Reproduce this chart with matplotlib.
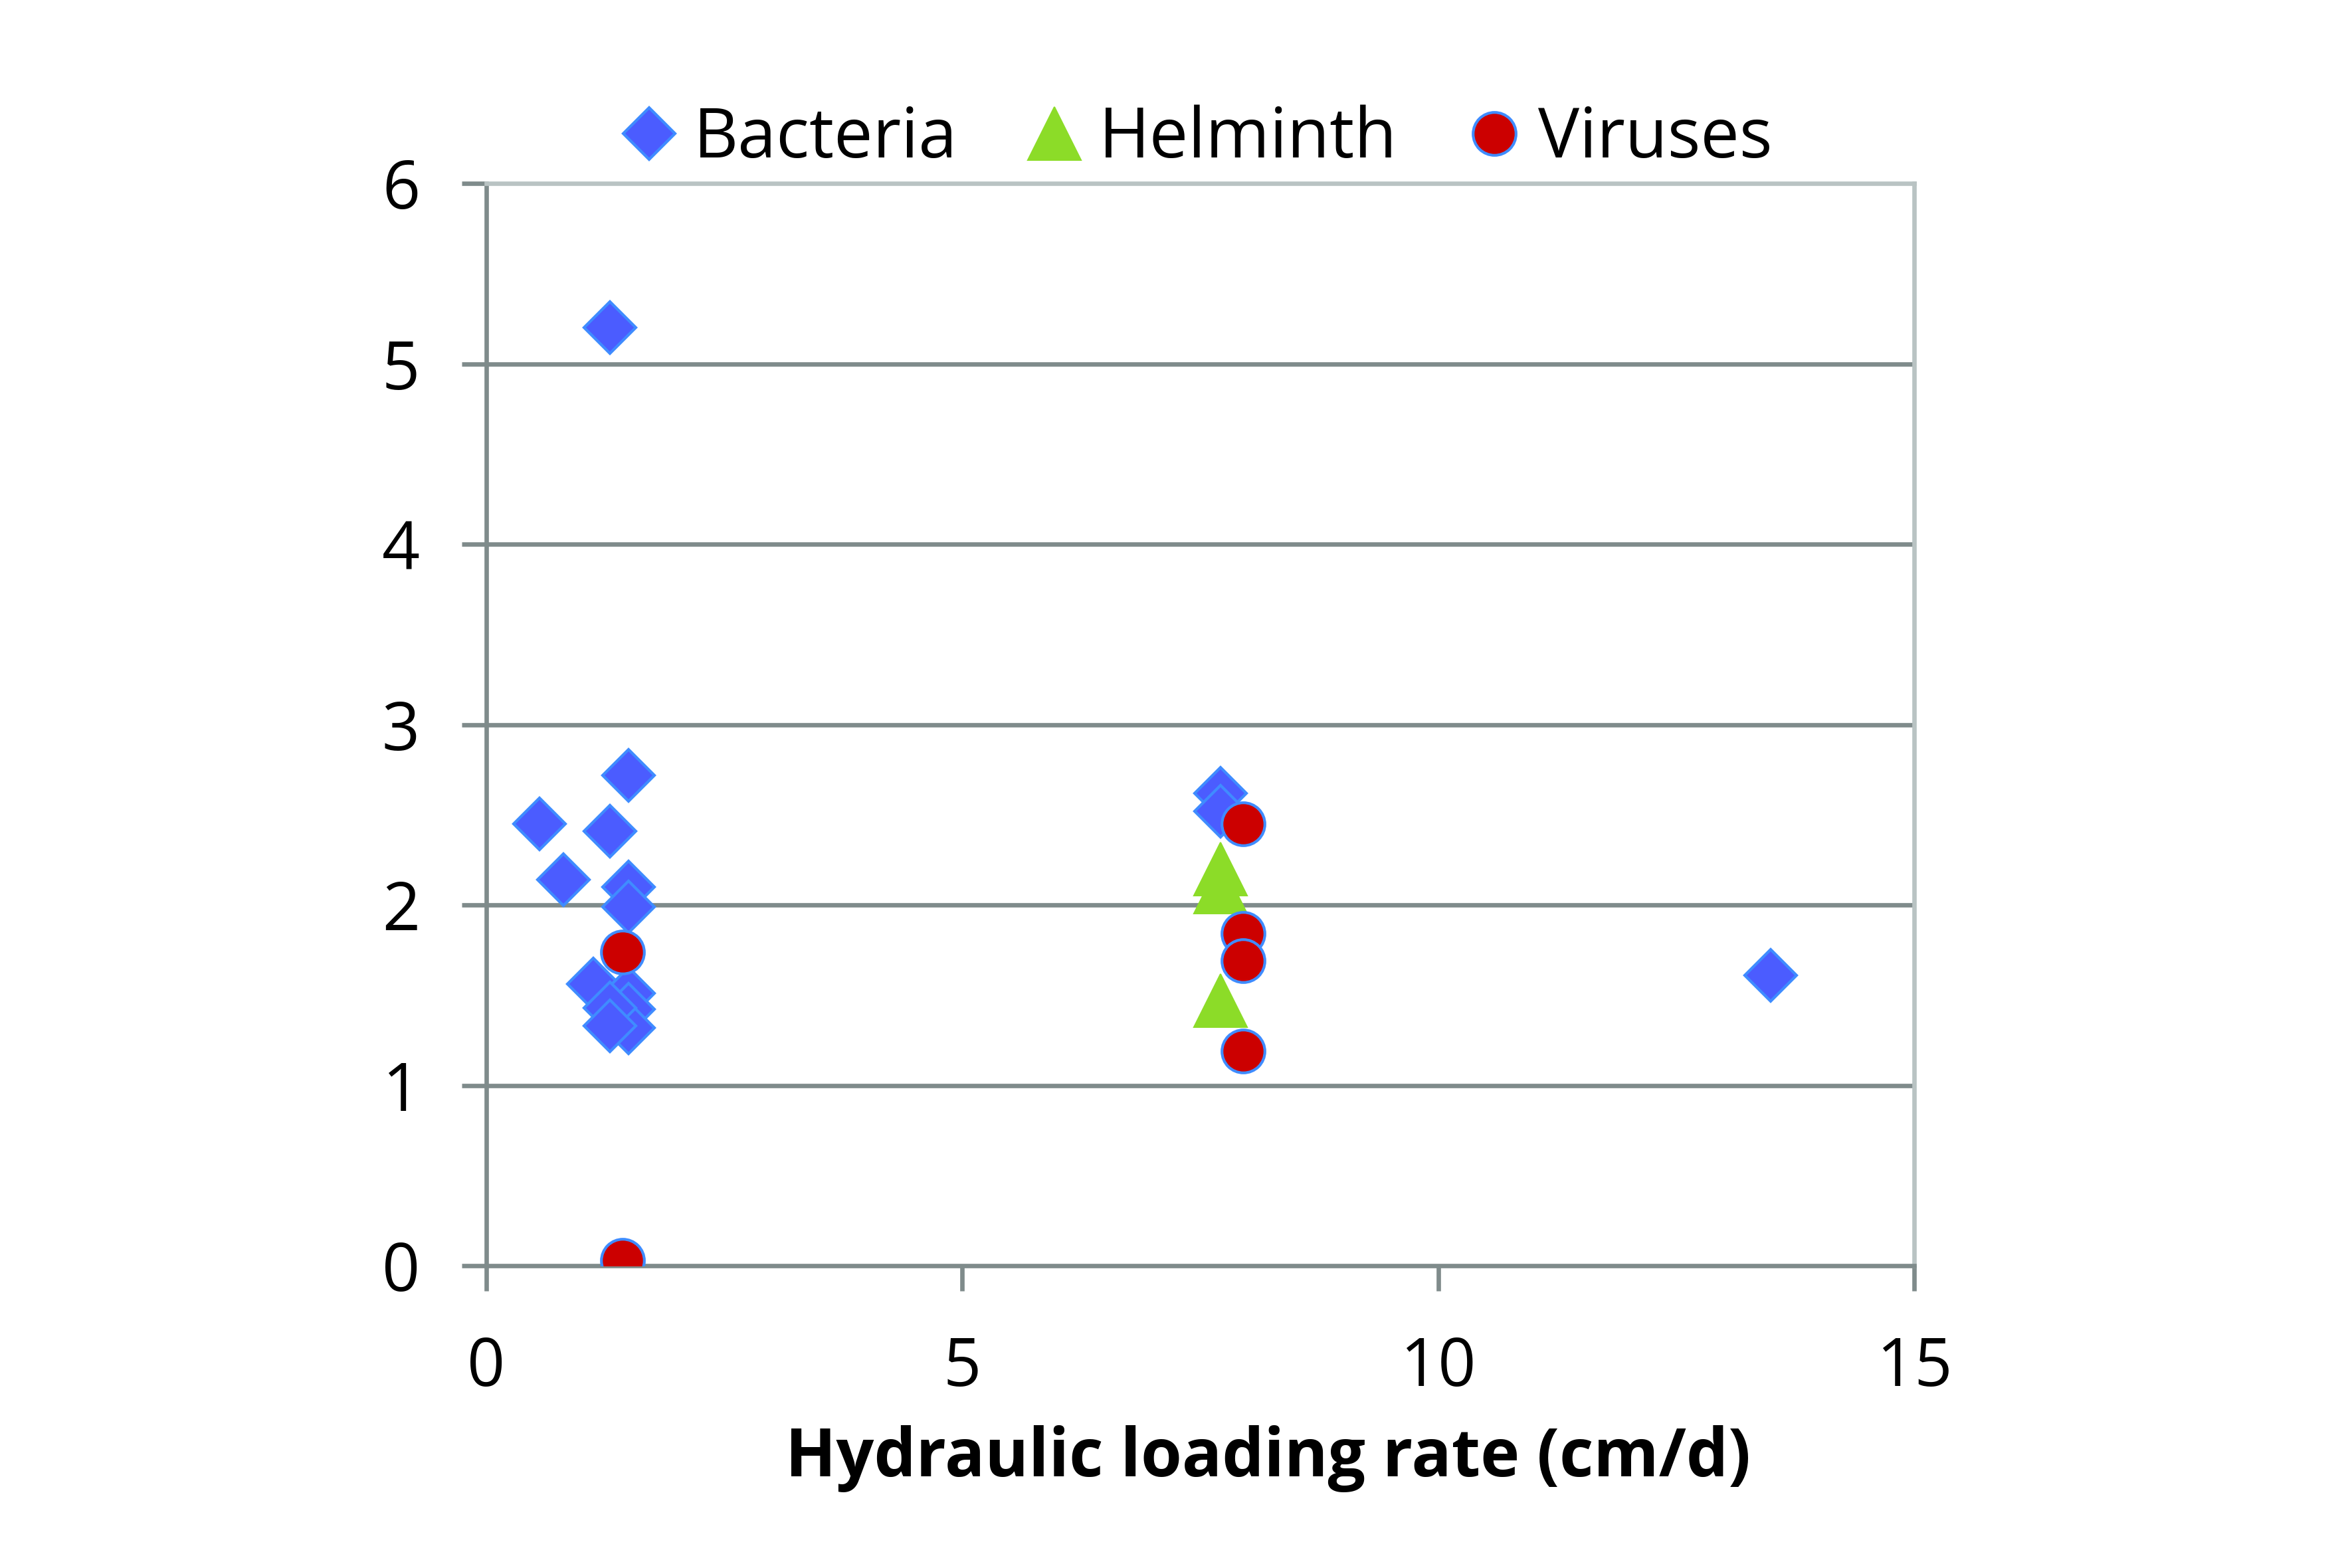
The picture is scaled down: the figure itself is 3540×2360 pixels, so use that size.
import matplotlib
matplotlib.use("Agg")
from matplotlib import pyplot as plt

# values
bacteria_x = [1.30, 0.56, 0.81, 1.30, 1.49, 1.49, 1.49, 1.12, 1.49, 1.49, 1.49, 1.30, 1.30, 7.71, 7.71, 13.49]
bacteria_y = [5.20, 2.45, 2.14, 2.41, 2.72, 2.10, 1.99, 1.56, 1.51, 1.42, 1.32, 1.43, 1.33, 2.62, 2.52, 1.61]
helminth_x = [7.71, 7.71, 7.71]
helminth_y = [2.20, 2.10, 1.47]
virus_x = [1.43, 1.43, 7.95, 7.95, 7.95, 7.95]
virus_y = [1.74, 0.03, 2.45, 1.84, 1.69, 1.19]
xticks = [0, 5, 10, 15]
yticks = [0, 1, 2, 3, 4, 5, 6]
xlabel = "Hydraulic loading rate (cm/d)"

plt.rcParams['font.family'] = ['Open Sans', 'DejaVu Sans']
grid_col = "#7f8b8b"
border_col = "#b9c3c3"

fig = plt.figure(figsize=(11.8, 7.8667), dpi=300)
ax = fig.add_axes([0.2068, 0.1928, 0.6070, 0.6902])

ax.plot(bacteria_x, bacteria_y, linestyle='none', marker='D', ms=13.2,
        mfc="#4b5cff", mec="#3f8cff", mew=1.0, label="Bacteria", zorder=3)
ax.plot(helminth_x, helminth_y, linestyle='none', marker='^', ms=19,
        mfc="#8cdc28", mec="#8cdc28", mew=0.5, label="Helminth", zorder=4)
ax.plot(virus_x, virus_y, linestyle='none', marker='o', ms=15.5,
        mfc="#cc0000", mec="#3f8cff", mew=1.0, label="Viruses", zorder=5)

ax.set_xlim(0, 15)
ax.set_ylim(0, 6)
ax.set_xticks(xticks)
ax.set_yticks(yticks)
for y in yticks[1:-1]:
    ax.axhline(y, color=grid_col, lw=1.6, zorder=1)

ax.spines['left'].set_color(grid_col)
ax.spines['bottom'].set_color(grid_col)
ax.spines['left'].set_linewidth(1.6)
ax.spines['bottom'].set_linewidth(1.6)
ax.spines['top'].set_color(border_col)
ax.spines['right'].set_color(border_col)
ax.spines['top'].set_linewidth(1.6)
ax.spines['right'].set_linewidth(1.6)

ax.tick_params(axis='both', direction='out', length=9, width=1.6, color=grid_col,
               labelsize=24, labelcolor='black')
ax.tick_params(axis='y', pad=15)
ax.tick_params(axis='x', pad=16)

fig.text(0.539, 0.0585, xlabel, ha='center', va='baseline', fontsize=24, fontweight='bold')

leg = fig.legend(loc='center', bbox_to_anchor=(0.509, 0.911), ncol=3, frameon=False,
                 fontsize=25, handlelength=0.8, handletextpad=0.24, columnspacing=1.0,
                 borderaxespad=0)

fig.savefig("out.png", dpi=300, facecolor='white')
